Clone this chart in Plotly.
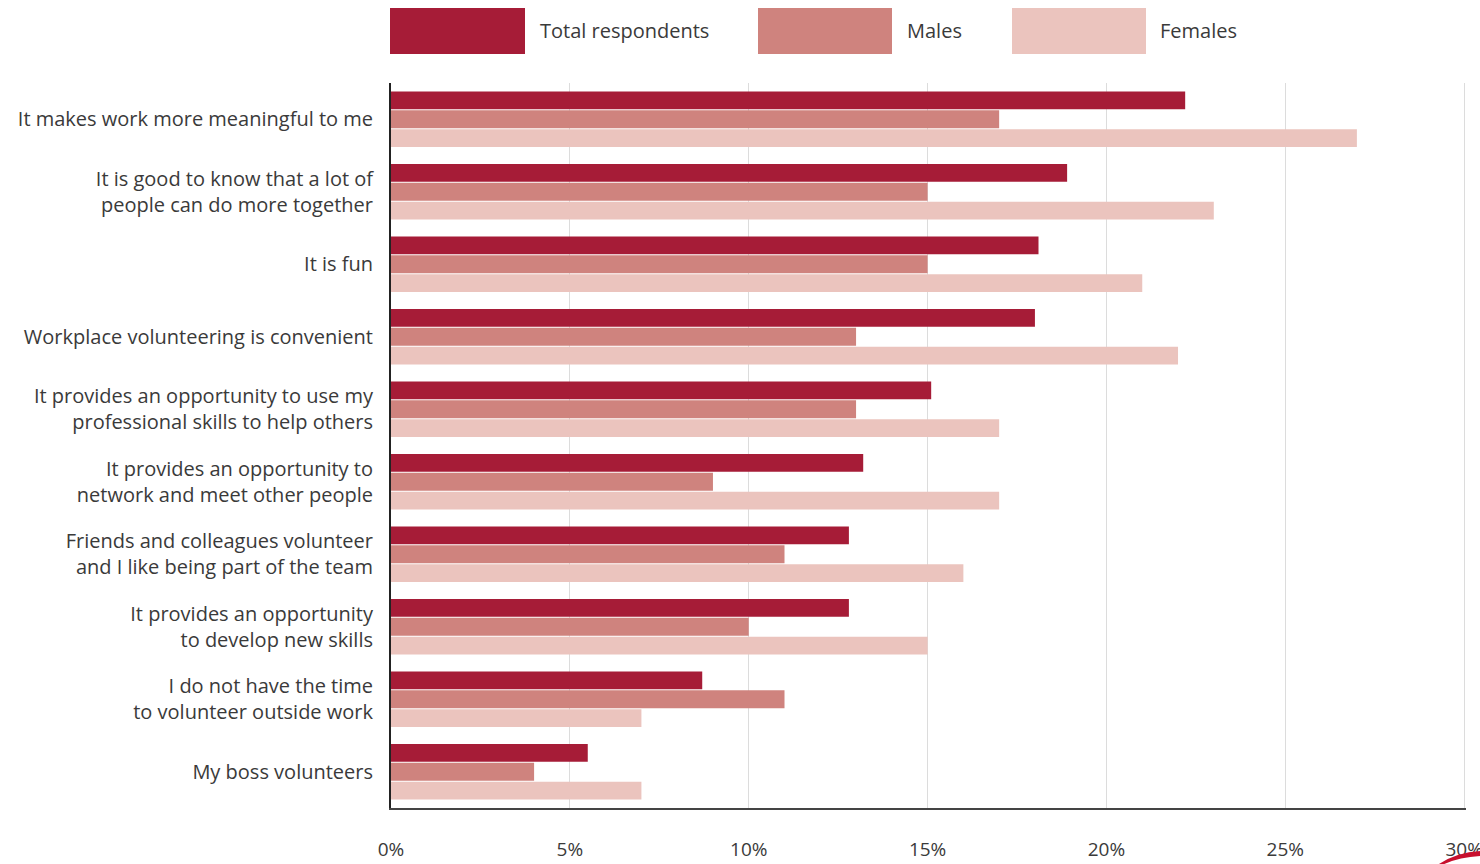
import plotly.graph_objects as go

# Reasons given for workplace volunteering (share of respondents, %)
categories = [
    "It makes work more meaningful to me",
    "It is good to know that a lot of<br>people can do more together",
    "It is fun",
    "Workplace volunteering is convenient",
    "It provides an opportunity to use my<br>professional skills to help others",
    "It provides an opportunity to<br>network and meet other people",
    "Friends and colleagues volunteer<br>and I like being part of the team",
    "It provides an opportunity<br>to develop new skills",
    "I do not have the time<br>to volunteer outside work",
    "My boss volunteers",
]
total_values = [22.2, 18.9, 18.1, 18.0, 15.1, 13.2, 12.8, 12.8, 8.7, 5.5]
male_values = [17, 15, 15, 13, 13, 9, 11, 10, 11, 4]
female_values = [27, 23, 21, 22, 17, 17, 16, 15, 7, 7]

series_names = ["Total respondents", "Males", "Females"]
series_colors = ["#A61C37", "#CF837E", "#EBC4BE"]
x_ticks = [0, 5, 10, 15, 20, 25, 30]
x_tick_labels = [f"{v}%" for v in x_ticks]

FONT = "Open Sans"
TEXT = "#3a3a3a"

fig = go.Figure()
for name, vals, col in zip(series_names, [total_values, male_values, female_values], series_colors):
    fig.add_trace(go.Bar(
        y=categories, x=vals, name=name, orientation="h",
        marker=dict(color=col, line=dict(width=0)),
        showlegend=False,
    ))

# plot area in pixels: x 391..1466, y 83..808 (of a 1480x864 page)
L, R, T, B = 391, 1466, 83, 808
W, H = 1480, 864
X_MAX = 30.05  # a hair past 30% so the 30% gridline is drawn

def px_x(px):
    return (px - L) / (R - L)

def px_y(py):
    return (B - py) / (B - T)

shapes = []
annotations = []
legend_boxes = [(390, 525, 538), (758, 892, 905), (1012, 1146, 1158)]
for (x0, x1, tx), name, col in zip(legend_boxes, series_names, series_colors):
    shapes.append(dict(type="rect", xref="paper", yref="paper",
                       x0=px_x(x0), x1=px_x(x1), y0=px_y(54), y1=px_y(8),
                       fillcolor=col, line=dict(width=0)))
    annotations.append(dict(xref="paper", yref="paper", x=px_x(tx), y=px_y(31),
                            text=name, showarrow=False, xanchor="left", yanchor="middle",
                            font=dict(family=FONT, size=20, color=TEXT)))

# partial red swoosh of the logo in the bottom-right corner
shapes.append(dict(type="path", xref="paper", yref="paper",
                   path=(f"M {px_x(1436)} {px_y(866)} Q {px_x(1456)} {px_y(852)} {px_x(1482)} {px_y(851)} "
                         f"L {px_x(1482)} {px_y(856)} Q {px_x(1458)} {px_y(857)} {px_x(1440)} {px_y(866)} Z"),
                   fillcolor="#C8102E", line=dict(width=0), layer="above"))

fig.update_layout(
    width=W, height=H,
    margin=dict(l=L, r=W - R, t=T, b=H - B, pad=0, autoexpand=False),
    paper_bgcolor="white", plot_bgcolor="white",
    barmode="group", bargap=0.22, bargroupgap=0.05,
    font=dict(family=FONT, size=20, color=TEXT),
    shapes=shapes, annotations=annotations,
)
fig.update_xaxes(
    range=[0, X_MAX], tickvals=x_ticks, ticktext=x_tick_labels,
    showgrid=True, gridcolor="#dcdcdc", gridwidth=1,
    zeroline=False, showline=True, linecolor="#444444", linewidth=2,
    ticks="", ticklabelstandoff=23, automargin=False, ticklabeloverflow="allow",
    tickfont=dict(family=FONT, size=19, color=TEXT),
)
fig.update_yaxes(
    range=[9.5, -0.5], showgrid=False, zeroline=False,
    showline=True, linecolor="#222222", linewidth=2,
    ticks="", ticklabelstandoff=12, automargin=False,
    tickfont=dict(family=FONT, size=20, color=TEXT),
)

fig.write_html("out.html")
